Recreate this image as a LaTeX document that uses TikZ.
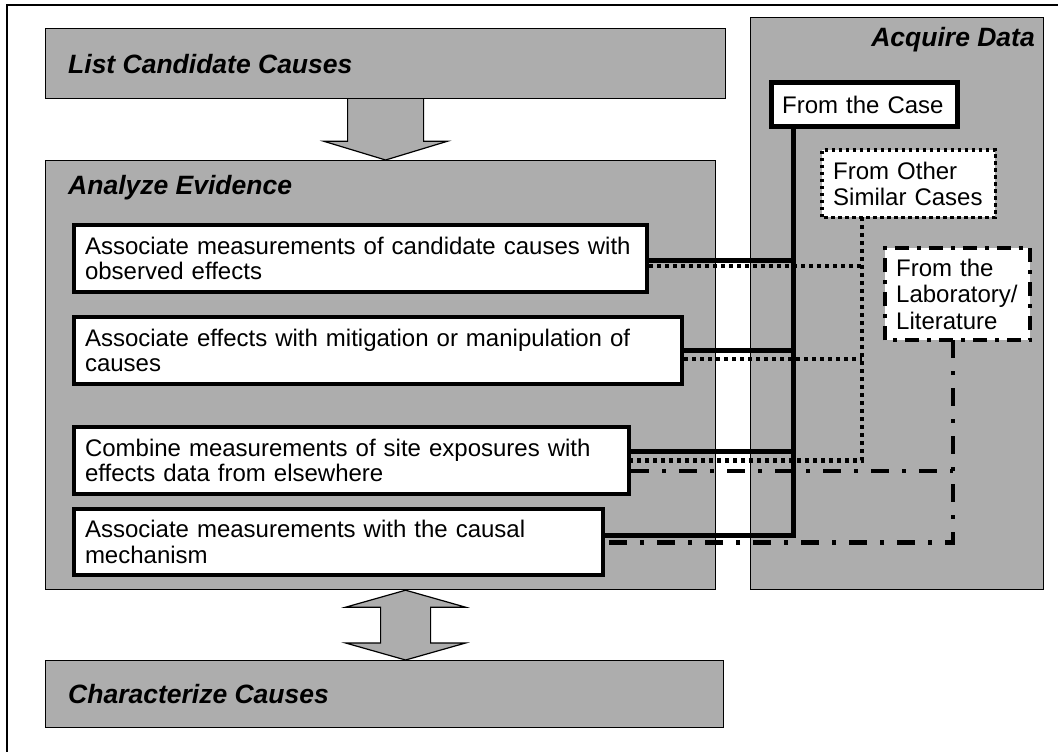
\documentclass[tikz,border=0pt]{standalone}
\usepackage{fontspec}
\setmainfont{Liberation Sans}
\usetikzlibrary{calc}
\definecolor{shadegray}{gray}{0.68}
\begin{document}
\begin{tikzpicture}[x=1pt,y=-1pt,
  shaded/.style={draw=black, line width=1.2pt, fill=shadegray, anchor=north west, inner sep=0pt},
  ttl/.style={font=\fontsize{26.5}{30}\selectfont\bfseries\itshape, inner sep=0pt},
  evbox/.style={draw=black, line width=4pt, fill=white, anchor=north west, align=left,
     inner xsep=11pt, inner ysep=0pt, font=\fontsize{24}{25.5}\selectfont},
  srcbox/.style={fill=white, anchor=north west, align=left,
     inner xsep=11pt, inner ysep=0pt, font=\fontsize{24}{26.5}\selectfont},
  solidc/.style={line width=5pt},
  dotc/.style={line width=4.5pt, dash pattern=on 4pt off 4pt},
  ddc/.style={line width=4.5pt, dash pattern=on 18pt off 13pt on 4pt off 13pt},
  bigarrow/.style={draw=black, line width=1.2pt, fill=shadegray}
]
\useasboundingbox (0,0) rectangle (1058,752);
\fill[white] (0,0) rectangle (1058,752);
% outer frame
\draw[line width=2pt] (7,752) -- (7,5) -- (1058,5);

% shaded main boxes
\node[shaded, minimum width=680pt, minimum height=70pt] (list) at (45,28) {};
\node[ttl, anchor=west] (listt) at (68,64) {List Candidate Causes};
\node[shaded, minimum width=670pt, minimum height=429pt] (analyze) at (45,160) {};
\node[ttl, anchor=west] (analyzet) at (68,188) {Analyze Evidence};
\node[shaded, minimum width=678pt, minimum height=67pt] (char) at (45,660) {};
\node[ttl, anchor=west] (chart) at (68,694) {Characterize Causes};
\node[shaded, minimum width=293pt, minimum height=572pt] (acq) at (750,17) {};
\node[ttl, anchor=east] (acqt) at (1035,40) {Acquire Data};

% big arrows
\coordinate (la) at (list.south);
\draw[bigarrow] ($(la)+(-38,0)$) -- ($(la)+(-38,42)$) -- ($(la)+(-62,42)$)
  -- (la |- analyze.north) -- ($(la)+(62,42)$) -- ($(la)+(38,42)$) -- ($(la)+(38,0)$);
\coordinate (dt) at ([xshift=25pt]analyze.south);
\coordinate (db) at (dt |- char.north);
\draw[bigarrow] (dt) -- ($(dt)+(60,17)$) -- ($(dt)+(25,17)$) -- ($(db)+(25,-17)$)
  -- ($(db)+(60,-17)$) -- (db) -- ($(db)+(-60,-17)$) -- ($(db)+(-25,-17)$)
  -- ($(dt)+(-25,17)$) -- ($(dt)+(-60,17)$) -- cycle;

% evidence boxes
\node[evbox, minimum width=573pt, minimum height=67pt, text width=551pt] (b1) at (72,223)
  {Associate measurements of candidate causes with\\observed effects};
\node[evbox, minimum width=608pt, minimum height=67pt, text width=586pt] (b2) at (72,315)
  {Associate effects with mitigation or manipulation of\\causes};
\node[evbox, minimum width=555pt, minimum height=67pt, text width=533pt] (b3) at (72,425)
  {Combine measurements of site exposures with\\effects data from elsewhere};
\node[evbox, minimum width=529pt, minimum height=66pt, text width=507pt] (b4) at (72,507)
  {Associate measurements with the causal\\mechanism};

% source boxes
\node[srcbox, minimum width=186pt, minimum height=43pt, text width=164pt] (case) at (771,83)
  {From the Case};
\node[srcbox, minimum width=173pt, minimum height=67pt, text width=151pt] (similar) at (822,150)
  {From Other\\Similar Cases};
\node[srcbox, minimum width=145pt, minimum height=92pt, text width=123pt] (lab) at (885,248)
  {From the\\Laboratory/\\Literature};

% connector anchor points
\coordinate (cv) at ([xshift=22pt]case.south west);
\coordinate (sv) at ([xshift=40pt]similar.south west);
\coordinate (lv) at ([xshift=68pt]lab.south west);
\coordinate (s1) at ([yshift=-1.5pt]b1.east);
\coordinate (d1) at ([yshift=-7.5pt]b1.east);
\coordinate (s2) at (b2.east);
\coordinate (d2) at ([yshift=-8.5pt]b2.east);
\coordinate (s3) at ([yshift=9.5pt]b3.east);
\coordinate (d3) at (b3.east);
\coordinate (e3) at ([yshift=-10.5pt]b3.east);
\coordinate (s4) at ([yshift=7pt]b4.east);
\coordinate (e4) at ([yshift=-0.5pt]b4.east);

% dash-dot connectors (laboratory)
\draw[ddc] (lv) |- (e4);
\draw[ddc] (e3) -- (e3 -| lv);
% dotted connectors (similar cases)
\draw[dotc] (sv) |- (d3);
\draw[dotc] (d1) -- (d1 -| sv);
\draw[dotc] (d2) -- (d2 -| sv);
% solid connectors (case)
\draw[solidc] (cv) |- (s4);
\draw[solidc] (s1) -- (s1 -| cv);
\draw[solidc] (s2) -- (s2 -| cv);
\draw[solidc] (s3) -- (s3 -| cv);

% source box borders on top
\draw[line width=5pt] (case.south west) rectangle (case.north east);
\draw[line width=3.5pt, dash pattern=on 3.5pt off 3.5pt] (similar.south west) rectangle (similar.north east);
\draw[line width=4pt, dash pattern=on 14pt off 8pt on 4pt off 8pt] (lab.south west) rectangle (lab.north east);
\end{tikzpicture}
\end{document}
